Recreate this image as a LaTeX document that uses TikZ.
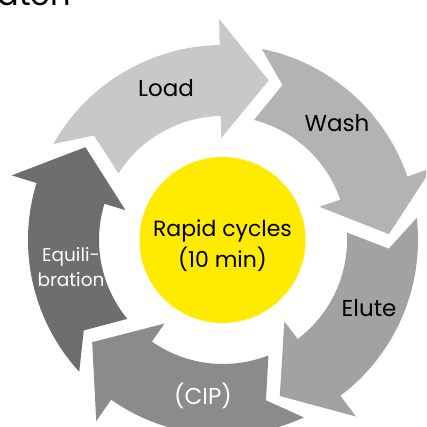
\documentclass[tikz,border=0pt]{standalone}
\usepackage{fontspec}
\setmainfont{Poppins}
\definecolor{cyLoad}{HTML}{C8C8C8}
\definecolor{cyWash}{HTML}{B3B3B3}
\definecolor{cyElute}{HTML}{A2A2A2}
\definecolor{cyCIP}{HTML}{8B8B8B}
\definecolor{cyEquil}{HTML}{6E6E6E}
\definecolor{cyYellow}{HTML}{FFEB00}
\newcommand\cyRin{124}
\newcommand\cyRout{195}
\newcommand\cyHin{102}
\newcommand\cyHout{221}
\newcommand\cyRtip{166}
% #1 = tip angle, #2 = colour
\newcommand\cyclearrow[2]{%
  \pgfmathsetmacro\cyTip{#1}%
  \pgfmathsetmacro\cyBase{#1+17}%
  \pgfmathsetmacro\cyTo{#1+76.5}%
  \pgfmathsetmacro\cyTi{#1+73.5}%
  \pgfmathsetmacro\cyApex{#1+67}%
  \fill[#2] (\cyTo:\cyRout) arc[start angle=\cyTo, end angle=\cyBase, radius=\cyRout]
    -- (\cyBase:\cyHout) -- (\cyTip:\cyRtip) -- (\cyBase:\cyHin) -- (\cyBase:\cyRin)
    arc[start angle=\cyBase, end angle=\cyTi, radius=\cyRin]
    -- (\cyApex:\cyRtip) -- cycle;
}
\begin{document}
\begin{tikzpicture}[x=1pt,y=1pt,
  lbl/.style={inner sep=0pt, font=\fontsize{23}{28}\selectfont},
  lblw/.style={lbl, text=white}]
\useasboundingbox (0,0) rectangle (426,427);
\clip (0,0) rectangle (426,427);
\fill[white] (0,0) rectangle (426,427);
\node[inner sep=0pt, anchor=base east, font=\fontsize{32}{38}\selectfont] (title) at (71,421) {atch};
\begin{scope}[shift={(223,187)}]
  \cyclearrow{74}{cyLoad}
  \cyclearrow{2}{cyWash}
  \cyclearrow{-70}{cyElute}
  \cyclearrow{-142}{cyCIP}
  \cyclearrow{-214}{cyEquil}
\end{scope}
\node[circle, fill=cyYellow, minimum size=166pt, inner sep=0pt] (hub) at (222.5,187) {};
\node[inner sep=0pt, anchor=base, font=\fontsize{22}{31}\selectfont] (hubtop) at (222.5,190) {Rapid cycles};
\node[inner sep=0pt, anchor=base, font=\fontsize{22}{31}\selectfont] (hubbot) at (222.5,159) {(10 min)};
\node[lbl, anchor=base] (load) at (166,330) {Load};
\node[lbl, anchor=base] (wash) at (337,295) {Wash};
\node[lbl, anchor=base] (elute) at (369,110) {Elute};
\node[lblw, anchor=base] (cip) at (203,22) {(CIP)};
\node[lblw, anchor=base, font=\fontsize{18.5}{25}\selectfont] (equil1) at (71,165) {Equili-};
\node[lblw, anchor=base, font=\fontsize{18.5}{25}\selectfont] (equil2) at (71,140) {bration};
\end{tikzpicture}
\end{document}
